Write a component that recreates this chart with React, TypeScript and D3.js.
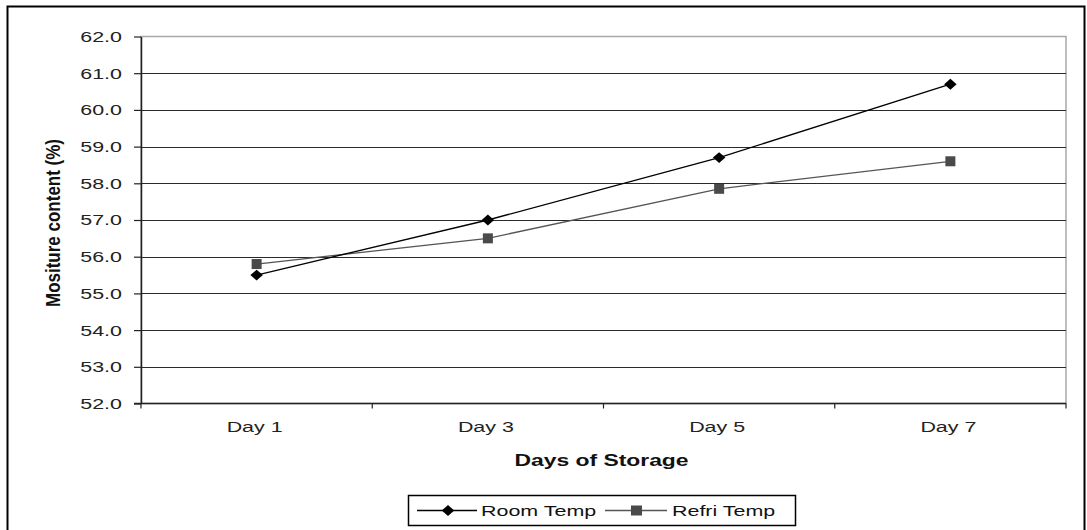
import React, { useEffect, useRef } from "react";
import * as d3 from "d3";

const days = ["Day 1", "Day 3", "Day 5", "Day 7"];
const roomTemp = [55.5, 57.0, 58.7, 60.7];
const refriTemp = [55.8, 56.5, 57.85, 58.6];
const yTicks = [52, 53, 54, 55, 56, 57, 58, 59, 60, 61, 62];

const W = 1087;
const H = 530;
const plot = { left: 141, right: 1066, top: 36.5, bottom: 403.5 };
const FONT = "'Liberation Sans', Arial, sans-serif";
const NARROW = "'Liberation Sans Narrow', 'Arial Narrow', 'Liberation Sans', sans-serif";
// glyphs are rendered horizontally widened
const SX = 1.43;

type Sel = d3.Selection<SVGGElement, unknown, null, undefined> | d3.Selection<SVGSVGElement | null, unknown, null, undefined>;

function wideText(
  parent: any,
  x: number,
  y: number,
  text: string,
  opts: { anchor?: string; size?: number; weight?: string; fill?: string; family?: string; rotate?: number; sx?: number } = {}
) {
  const g = parent.append("g")
    .attr("transform", `translate(${x},${y}) scale(${opts.sx ?? SX},1)${opts.rotate ? ` rotate(${opts.rotate})` : ""}`);
  g.append("text")
    .attr("x", 0).attr("y", 0)
    .attr("dy", "0.36em")
    .attr("text-anchor", opts.anchor ?? "start")
    .attr("font-family", opts.family ?? FONT)
    .attr("font-size", opts.size ?? 15)
    .attr("font-weight", opts.weight ?? "normal")
    .attr("fill", opts.fill ?? "#222")
    .text(text);
  return g;
}

export default function App() {
  const ref = useRef<SVGSVGElement>(null);

  useEffect(() => {
    const svg = d3.select(ref.current);
    svg.selectAll("*").remove();

    const x = d3.scaleBand<string>().domain(days).range([plot.left, plot.right]);
    const y = d3.scaleLinear().domain([52, 62]).range([plot.bottom, plot.top]);

    // outer chart frame
    svg.append("rect")
      .attr("x", 7.5).attr("y", 6.5)
      .attr("width", 1077).attr("height", 540)
      .attr("fill", "#fff").attr("stroke", "#000").attr("stroke-width", 2);

    // plot area frame (gray top & right)
    svg.append("rect")
      .attr("x", plot.left).attr("y", plot.top)
      .attr("width", plot.right - plot.left).attr("height", plot.bottom - plot.top)
      .attr("fill", "#fff").attr("stroke", "#a8a8a8").attr("stroke-width", 1.5);

    // horizontal gridlines
    svg.append("g").selectAll("line")
      .data(yTicks.filter((t) => t !== 52 && t !== 62))
      .join("line")
      .attr("x1", plot.left).attr("x2", plot.right)
      .attr("y1", (d) => Math.round(y(d)) + 0.5).attr("y2", (d) => Math.round(y(d)) + 0.5)
      .attr("stroke", "#2a2a2a").attr("stroke-width", 1.2);

    // y axis
    const yAxis = d3.axisLeft(y).tickValues(yTicks).tickSize(7).tickSizeOuter(0)
      .tickFormat(() => "");
    const gy = svg.append("g").attr("transform", `translate(${plot.left},0)`).call(yAxis);
    gy.select(".domain").attr("stroke", "#222").attr("stroke-width", 1.5);
    gy.selectAll(".tick line").attr("stroke", "#222").attr("stroke-width", 1.2);
    yTicks.forEach((t) => {
      wideText(svg, 122, y(t), d3.format(".1f")(t), { anchor: "end", size: 15 });
    });

    // x axis
    const gx = svg.append("g").attr("transform", `translate(0,${plot.bottom})`);
    gx.append("line")
      .attr("x1", plot.left - 7).attr("x2", plot.right)
      .attr("y1", 0).attr("y2", 0)
      .attr("stroke", "#222").attr("stroke-width", 1.5);
    const bounds = days.map((d) => (x(d) as number)).concat([plot.right]);
    gx.selectAll("line.tk").data(bounds).join("line").attr("class", "tk")
      .attr("x1", (d) => d).attr("x2", (d) => d)
      .attr("y1", 0).attr("y2", 5)
      .attr("stroke", "#222").attr("stroke-width", 1.2);
    days.forEach((d) => {
      wideText(svg, (x(d) as number) + x.bandwidth() / 2 - 2, 427, d, { anchor: "middle", size: 15 });
    });

    // axis titles
    wideText(svg, (plot.left + plot.right) / 2 - 2, 460, "Days of Storage", {
      anchor: "middle", size: 16, weight: "bold", fill: "#111",
    });
    wideText(svg, 53, 223, "Mositure content (%)", {
      anchor: "middle", size: 17, weight: "bold", fill: "#111", family: NARROW, rotate: -90, sx: 1.2,
    });

    const cx = (d: string) => (x(d) as number) + x.bandwidth() / 2;
    const line = d3.line<number>().x((_, i) => cx(days[i])).y((v) => y(v));

    // Refri Temp series
    svg.append("path").datum(refriTemp).attr("d", line)
      .attr("fill", "none").attr("stroke", "#555").attr("stroke-width", 1.3);
    svg.append("g").selectAll("rect").data(refriTemp).join("rect")
      .attr("x", (_, i) => cx(days[i]) - 5).attr("y", (v) => y(v) - 5)
      .attr("width", 10).attr("height", 10)
      .attr("fill", "#4a4a4a");

    // Room Temp series
    svg.append("path").datum(roomTemp).attr("d", line)
      .attr("fill", "none").attr("stroke", "#000").attr("stroke-width", 1.3);
    const diamond = d3.symbol().type(d3.symbolDiamond2).size(75);
    svg.append("g").selectAll("path").data(roomTemp).join("path")
      .attr("d", diamond)
      .attr("transform", (v, i) => `translate(${cx(days[i])},${y(v)}) scale(1.15,1)`)
      .attr("fill", "#000");

    // legend
    const lg = svg.append("g");
    lg.append("rect")
      .attr("x", 408.5).attr("y", 495.5).attr("width", 387).attr("height", 30)
      .attr("fill", "#fff").attr("stroke", "#000").attr("stroke-width", 1.5);
    lg.append("line").attr("x1", 417).attr("x2", 477).attr("y1", 510.5).attr("y2", 510.5)
      .attr("stroke", "#000").attr("stroke-width", 1.3);
    lg.append("path").attr("d", diamond)
      .attr("transform", "translate(448,510.5) scale(1.15,1)").attr("fill", "#000");
    wideText(lg, 481, 510.5, "Room Temp", { size: 15, fill: "#111" });
    lg.append("line").attr("x1", 605).attr("x2", 667).attr("y1", 510.5).attr("y2", 510.5)
      .attr("stroke", "#555").attr("stroke-width", 1.3);
    lg.append("rect").attr("x", 631).attr("y", 505.5).attr("width", 11).attr("height", 10)
      .attr("fill", "#4a4a4a");
    wideText(lg, 672, 510.5, "Refri Temp", { size: 15, fill: "#111" });
  }, []);

  return (
    <svg
      ref={ref}
      width={W}
      height={H}
      style={{ position: "absolute", left: 0, top: 0, background: "#fff" }}
    />
  );
}
